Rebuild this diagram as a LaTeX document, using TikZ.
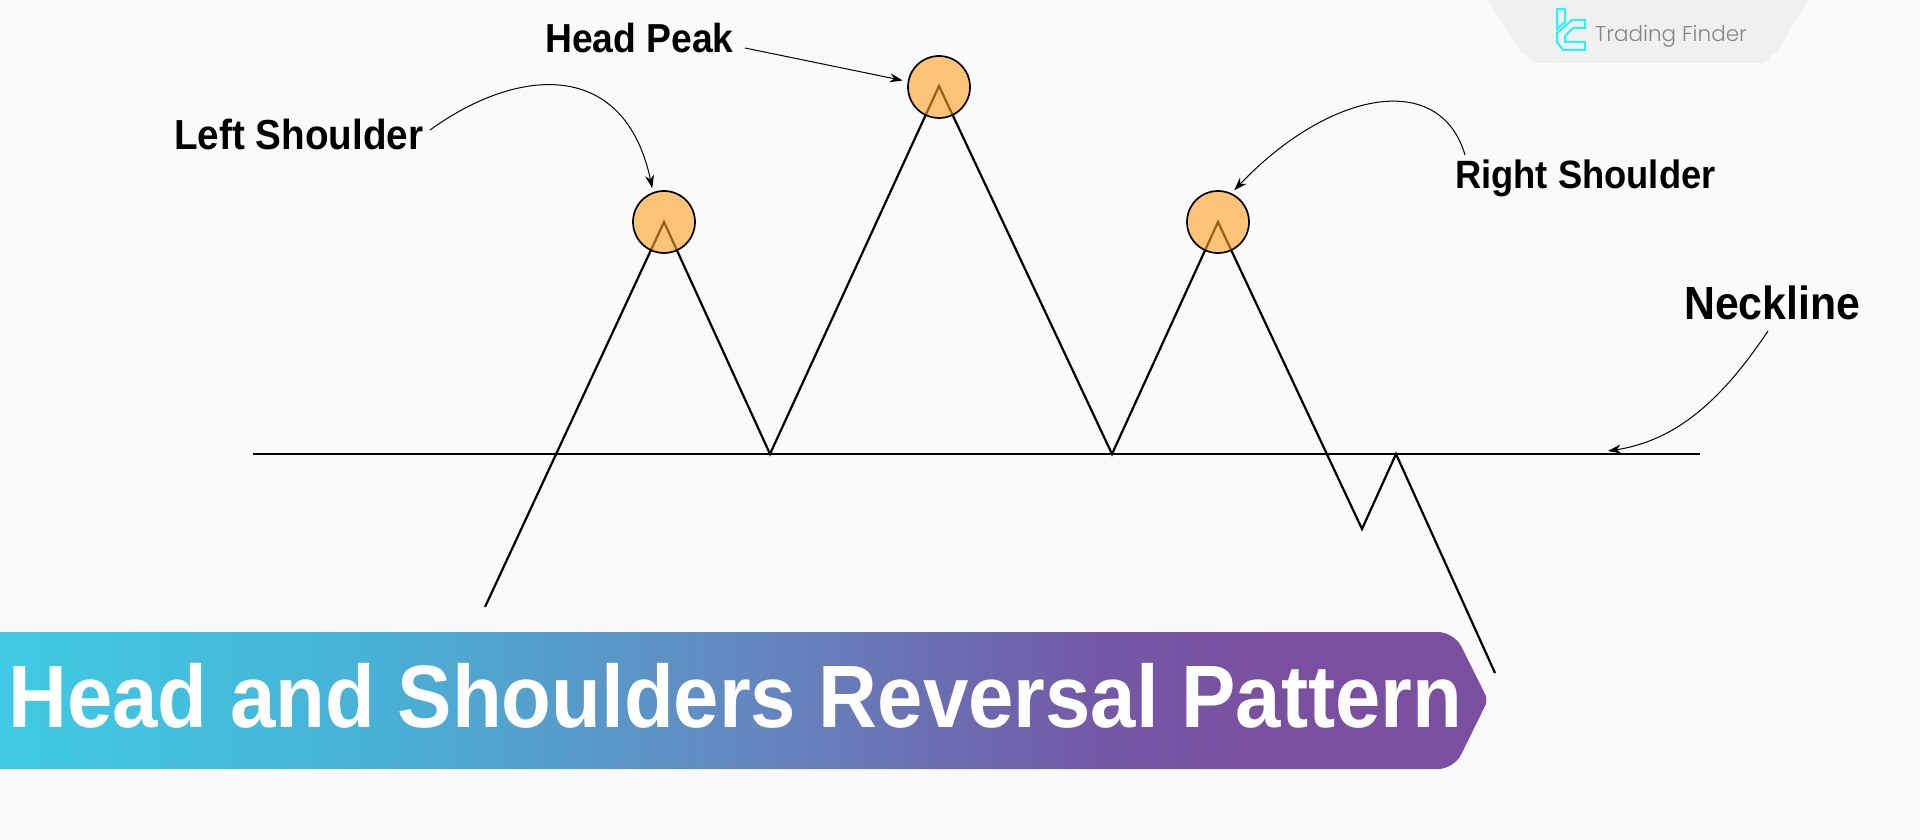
\documentclass[tikz,border=0pt]{standalone}
\usepackage{fontspec}
\setmainfont[FakeStretch=0.92]{Liberation Sans}
\newfontfamily\logofont{Poppins Light}
\usetikzlibrary{arrows.meta}
\definecolor{bgc}{HTML}{FAFAFA}
\definecolor{tabc}{HTML}{F0F0F0}
\definecolor{orc}{HTML}{FFA021}
\definecolor{logoc}{HTML}{2DF2F5}
\definecolor{ga}{HTML}{40CAE3}
\definecolor{gb}{HTML}{47B3D7}
\definecolor{gc}{HTML}{6388BF}
\definecolor{gd}{HTML}{7358A6}
\definecolor{ge}{HTML}{7B4F9F}
\pgfdeclarehorizontalshading{bannershade}{100bp}{
 color(0bp)=(ga);
 color(25bp)=(ga);
 color(37bp)=(gb);
 color(50bp)=(gc);
 color(62bp)=(gd);
 color(68bp)=(ge);
 color(100bp)=(ge)}
\tikzset{
 price/.style={line width=2.2pt,black,line join=miter},
 neck/.style={line width=2.2pt,black},
 peak/.style={circle,draw=black,line width=1.7pt,fill=orc,fill opacity=0.6,draw opacity=1,minimum size=62pt,inner sep=0pt},
 lab/.style={text=black,inner sep=0pt},
 call/.style={line width=1pt,black,-{Stealth[length=13pt,width=9pt]}},
}
\begin{document}
\begin{tikzpicture}[x=1pt,y=-1pt]
\useasboundingbox (0,0) rectangle (1920,840);
\fill[bgc] (0,0) rectangle (1920,840);
% logo tab
\fill[tabc] (1488,0) -- (1522,54) to[out=60,in=180] (1536,63) -- (1762,63) to[out=0,in=120] (1776,54) -- (1808,0) -- cycle;
\draw[logoc,line width=2pt,line join=miter]
 (1557,9) -- (1565,9) -- (1565,22) -- (1557,29) -- cycle;
\draw[logoc,line width=2pt,line join=miter]
 (1572,20) -- (1585,20) -- (1585,28) -- (1573,28) -- (1565,36) -- (1565,42) -- (1585,42) -- (1585,50) -- (1563,50) -- (1557,42) -- (1557,33) -- cycle;
\node[anchor=west,inner sep=0pt,text=black!48,font=\logofont\fontsize{21.5}{26}\selectfont] (logotext) at (1595,36) {Trading Finder};
% price line and neckline, under the translucent circles
\coordinate (p0) at (485,607);
\coordinate (p1) at (664,222);
\coordinate (p2) at (770,454);
\coordinate (p3) at (939,86);
\coordinate (p4) at (1112,454);
\coordinate (p5) at (1218,222);
\coordinate (p6) at (1362,529);
\coordinate (p7) at (1396,454);
\coordinate (p8) at (1495,673);
\coordinate (n0) at (253,454);
\coordinate (n1) at (1700,454);
\draw[neck] (n0) -- (n1);
\draw[price] (p0) -- (p1) -- (p2) -- (p3) -- (p4) -- (p5) -- (p6) -- (p7) -- (p8);
\node[peak] (c1) at (664,222) {};
\node[peak] (c2) at (939,87) {};
\node[peak] (c3) at (1218,222) {};
% banner
\path[shading=bannershade] (0,632) [rounded corners=16pt] -- (1454,632) [rounded corners=6pt] -- (1488,700) [rounded corners=16pt] -- (1454,769) [sharp corners] -- (0,769) -- cycle;
\node[anchor=base west,inner sep=0pt,text=white,font=\bfseries\fontsize{88.6}{92}\selectfont] (title) at (8,727) {Head and Shoulders Reversal Pattern};
% labels
\node[lab,anchor=west,font=\bfseries\fontsize{42}{44}\selectfont] (ls) at (174,134) {Left Shoulder};
\node[lab,anchor=west,font=\bfseries\fontsize{40.5}{44}\selectfont] (hp) at (545,38) {Head Peak};
\node[lab,anchor=west,font=\bfseries\fontsize{39.5}{44}\selectfont] (rs) at (1455,178) {Right Shoulder};
\node[lab,anchor=west,font=\bfseries\fontsize{46.5}{50}\selectfont] (nl) at (1684,303) {Neckline};
\coordinate (nt) at (1608,451);
\draw[call,shorten >=4pt] (430,130) .. controls (520,65) and (625,60) .. (c1.110);
\draw[call,shorten >=5pt] (745,48) -- (c2.170);
\draw[call,shorten >=4pt] (1465,155) .. controls (1440,70) and (1330,90) .. (c3.65);
\draw[call] (1768,331) .. controls (1725,395) and (1680,440) .. (nt);
\end{tikzpicture}
\end{document}
